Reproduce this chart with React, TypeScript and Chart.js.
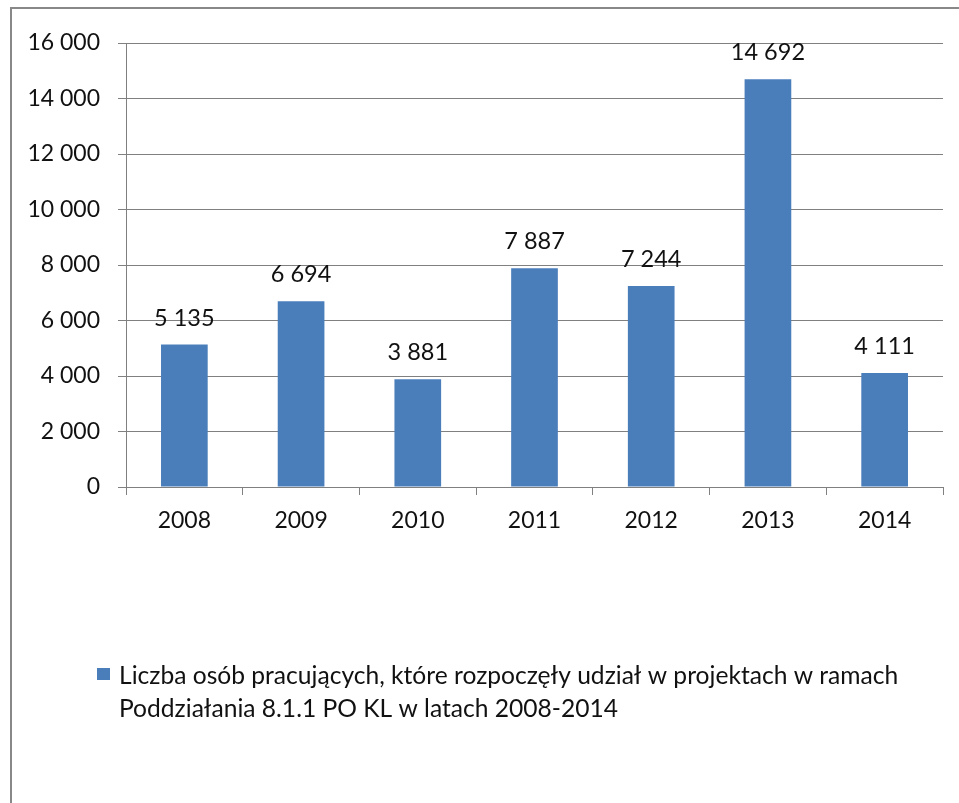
import React, { useEffect, useRef } from 'react';
import { Chart, registerables } from 'chart.js';

Chart.register(...registerables);

const years = ['2008', '2009', '2010', '2011', '2012', '2013', '2014'];
const participants = [5135, 6694, 3881, 7887, 7244, 14692, 4111];
const yMin = 0;
const yMax = 16000;
const yStep = 2000;
const legendLines = [
  'Liczba osób pracujących, które rozpoczęły udział w projektach w ramach',
  'Poddziałania 8.1.1 PO KL w latach 2008-2014',
];

const FONT = "Lato, 'Open Sans', sans-serif";
const BAR = '#4a7ebb';
const GRID = '#808080';

const fmt = (v: number) => String(Math.round(v)).replace(/\B(?=(\d{3})+(?!\d))/g, ' ');

const framePlugin = {
  id: 'frame',
  beforeDraw(chart: any) {
    const ctx = chart.ctx;
    ctx.save();
    ctx.fillStyle = '#fff';
    ctx.fillRect(0, 0, chart.width, chart.height);
    ctx.strokeStyle = '#888888';
    ctx.lineWidth = 2;
    ctx.strokeRect(11, 8, chart.width + 50, chart.height + 50);
    ctx.restore();
  },
};

const valueLabelPlugin = {
  id: 'valueLabels',
  afterDatasetsDraw(chart: any) {
    const ctx = chart.ctx;
    const meta = chart.getDatasetMeta(0);
    const data = chart.data.datasets[0].data as number[];
    ctx.save();
    ctx.font = `23.5px ${FONT}`;
    ctx.fillStyle = '#111';
    ctx.textAlign = 'center';
    ctx.textBaseline = 'alphabetic';
    meta.data.forEach((bar: any, i: number) => {
      ctx.fillText(fmt(data[i]), bar.x, bar.y - 19);
    });
    ctx.restore();
  },
};

const legendPlugin = {
  id: 'customLegend',
  afterDraw(chart: any) {
    const ctx = chart.ctx;
    const left = chart.chartArea.left;
    ctx.save();
    ctx.fillStyle = BAR;
    ctx.fillRect(left - 29, 668, 13, 12);
    ctx.font = `24.6px ${FONT}`;
    ctx.fillStyle = '#111';
    ctx.textAlign = 'left';
    ctx.textBaseline = 'alphabetic';
    legendLines.forEach((line, i) => {
      ctx.fillText(line, left - 7, 684 + i * 33);
    });
    ctx.restore();
  },
};

export default function App() {
  const ref = useRef<HTMLCanvasElement | null>(null);

  useEffect(() => {
    if (!ref.current) return;
    const chart = new Chart(ref.current, {
      type: 'bar',
      data: {
        labels: years,
        datasets: [
          {
            label: legendLines.join(' '),
            data: participants,
            backgroundColor: BAR,
            borderWidth: 0,
            barPercentage: 0.4,
            categoryPercentage: 1.0,
          },
        ],
      },
      options: {
        responsive: false,
        animation: false,
        layout: { padding: { top: 43, right: 16, left: 0, bottom: 0 } },
        plugins: {
          legend: { display: false },
          tooltip: { enabled: false },
          title: { display: false },
        },
        scales: {
          x: {
            offset: true,
            grid: {
              offset: true,
              drawOnChartArea: false,
              drawTicks: true,
              tickLength: 8,
              color: GRID,
            },
            border: { color: GRID, width: 1 },
            ticks: {
              color: '#111',
              font: { family: FONT, size: 23 },
              padding: 12,
              maxRotation: 0,
            },
            afterFit(scale: any) {
              scale.height = 316;
            },
          },
          y: {
            min: yMin,
            max: yMax,
            grid: { color: GRID, tickLength: 8, drawTicks: true },
            border: { color: GRID, width: 1 },
            ticks: {
              stepSize: yStep,
              color: '#111',
              font: { family: FONT, size: 23 },
              padding: 18,
              callback: (v: any) => fmt(Number(v)),
            },
            afterFit(scale: any) {
              scale.width = 126;
            },
          },
        },
      },
      plugins: [framePlugin, valueLabelPlugin, legendPlugin],
    });
    return () => chart.destroy();
  }, []);

  return (
    <div style={{ position: 'fixed', left: 0, top: 0, width: 959, height: 803, background: '#fff' }}>
      <canvas ref={ref} width={959} height={803} style={{ width: 959, height: 803, display: 'block' }} />
    </div>
  );
}
